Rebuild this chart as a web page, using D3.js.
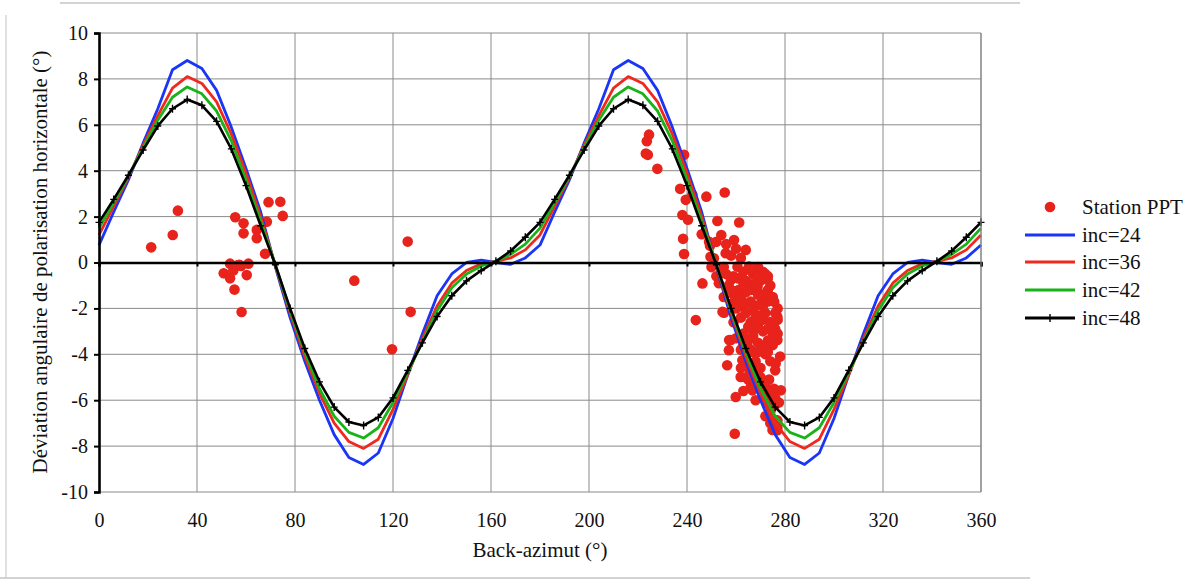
<!DOCTYPE html>
<html>
<head>
<meta charset="utf-8">
<script src="https://cdn.jsdelivr.net/npm/d3@7"></script>
<style>
html,body{margin:0;padding:0;background:#fff;}
svg{display:block;}
</style>
</head>
<body>
<svg id="chart" width="1196" height="580"></svg>
<script>
// ---------- DATA ----------
const azimuth = [0,6,12,18,24,30,36,42,48,54,60,66,72,78,84,90,96,102,108,114,120,126,132,138,144,150,156,162,168,174,
  180,186,192,198,204,210,216,222,228,234,240,246,252,258,264,270,276,282,288,294,300,306,312,318,324,330,336,342,348,354,360];

const inc24 = [0.76,2.2,3.6,5.2,6.7,8.4,8.8,8.45,7.5,5.9,4.1,2.2,-0.2,-2.4,-4.3,-6.0,-7.5,-8.5,-8.8,-8.3,-6.8,-4.9,-3.1,-1.45,-0.5,0.0,0.1,0.0,-0.08,0.2,
  0.76,2.2,3.6,5.2,6.7,8.4,8.8,8.45,7.5,5.9,4.1,2.2,-0.2,-2.4,-4.3,-6.0,-7.5,-8.5,-8.8,-8.3,-6.8,-4.9,-3.1,-1.45,-0.5,0.0,0.1,0.0,-0.08,0.2,0.76];

const inc36 = [1.2,2.45,3.7,5.1,6.4,7.6,8.1,7.8,7.0,5.6,3.9,2.0,-0.15,-2.2,-4.1,-5.7,-7.0,-7.8,-8.1,-7.7,-6.4,-4.9,-3.3,-1.9,-0.9,-0.35,-0.05,0.05,0.2,0.55,
  1.2,2.45,3.7,5.1,6.4,7.6,8.1,7.8,7.0,5.6,3.9,2.0,-0.15,-2.2,-4.1,-5.7,-7.0,-7.8,-8.1,-7.7,-6.4,-4.9,-3.3,-1.9,-0.9,-0.35,-0.05,0.05,0.2,0.55,1.2];

const inc42 = [1.5,2.6,3.75,5.0,6.2,7.2,7.65,7.35,6.6,5.3,3.6,1.8,-0.1,-2.1,-3.9,-5.5,-6.7,-7.4,-7.65,-7.2,-6.1,-4.8,-3.45,-2.1,-1.1,-0.5,-0.15,0.05,0.35,0.8,
  1.5,2.6,3.75,5.0,6.2,7.2,7.65,7.35,6.6,5.3,3.6,1.8,-0.1,-2.1,-3.9,-5.5,-6.7,-7.4,-7.65,-7.2,-6.1,-4.8,-3.45,-2.1,-1.1,-0.5,-0.15,0.05,0.35,0.8,1.5];

const inc48 = [1.75,2.75,3.8,4.9,5.95,6.7,7.1,6.85,6.15,4.95,3.35,1.6,-0.1,-2.0,-3.75,-5.2,-6.3,-6.95,-7.1,-6.75,-5.9,-4.7,-3.5,-2.35,-1.45,-0.8,-0.35,0.05,0.5,1.1,
  1.75,2.75,3.8,4.9,5.95,6.7,7.1,6.85,6.15,4.95,3.35,1.6,-0.1,-2.0,-3.75,-5.2,-6.3,-6.95,-7.1,-6.75,-5.9,-4.7,-3.5,-2.35,-1.45,-0.8,-0.35,0.05,0.5,1.1,1.75];

// Station PPT observations: back-azimuth (deg) and deviation (deg)
const stationAz = [
  21.3,30.1,32.2,55.6,59.0,59.0,64.4,64.4,68.5,69.2,74.0,75.0,67.8,53.5,56.5,58.0,61.0,60.3,50.9,53.5,55.3,58.2,104.2,119.6,126.0,127.2,54.8,57.3,
  224.5,223.6,224.0,223.2,227.9,238.8,237.2,239.5,242.2,247.9,255.4,238.1,240.4,252.4,261.3,238.4,238.8,246.0,249.4,259.2,264.0,251.0,255.8,
  246.3,265.3,272.9,268.8,253.8,257.9,260.6,243.6,259.9,259.5,255.1,257.1,256.4,257.9,266.0,276.9,249.0,249.6,275.6,276.9,276.9,276.2,278.3,276.9,
  254.5,257.2,
  252,254,256,258,260,262,250,252,255,257,259,261,263,265,267,269,271,273,255,258,262,264,266,268,270,274,
  262,264,266,268,270,272,274,276,263,265,267,269,271,273,275,277,262,264,266,268,270,272,274,276,278,259,260,
  262.6,264.7,268.1,269.4,266.7,271.5,272.9,274.2,275.4,276.9,273.5,275.5,277.5,270,268,272,274,276,261.9,263,265,274.9,276.3,
  253,256,259,261,263,266,268,270,272,275,260,262,264,267,269,271,273,276,277,265,267,269,271,273,263,265,267,269,271,273,275,262,264,266,
  268,270,272,274,276,258,261,264,266,269,271,273,275,277
];
const stationDev = [
  0.66,1.2,2.26,1.97,1.71,1.27,1.42,1.06,1.78,2.63,2.65,2.03,0.38,-0.05,-0.12,-0.15,-0.05,-0.55,-0.47,-0.69,-1.18,-2.16,-0.79,-3.78,0.91,-2.15,-0.35,-0.1,
  5.57,5.28,4.69,4.75,4.08,4.69,3.21,2.73,2.95,2.87,3.05,2.07,1.86,1.81,1.74,1.03,0.37,1.23,0.73,0.98,0.55,0.18,0.40,
  -0.91,-0.18,-0.73,-1.06,-0.47,-0.76,-0.18,-2.51,-5.86,-7.46,-2.19,-3.82,-4.48,-3.38,-5.42,-7.17,0.9,0.25,-1.71,-2.37,-3.38,-4.4,-5.57,-6.88,
  -2.15,-3.38,
  0.9,1.2,0.8,0.3,0.6,0.2,-0.2,-0.6,-0.2,-1.0,-0.6,-1.2,-0.4,-0.9,-0.5,-0.2,-1.4,-1.2,-1.5,-1.8,-1.9,-1.3,-1.7,-1.9,-1.8,-1.0,
  -2.4,-2.2,-2.6,-2.4,-2.3,-2.2,-2.6,-2.9,-3.1,-3.4,-3.0,-3.5,-3.0,-3.4,-3.6,-3.1,-3.8,-4.2,-3.8,-4.3,-4.6,-4.0,-4.3,-4.7,-4.1,-2.6,-3.3,
  -4.26,-4.55,-4.99,-5.28,-5.57,-5.86,-6.15,-6.44,-6.88,-7.31,-5.1,-5.5,-6.1,-5.5,-6.0,-6.7,-7.0,-6.2,-4.99,-5.6,-5.1,-7.3,-6.88,
  -0.9,-0.5,-1.4,-0.7,-1.0,-1.2,-0.9,-0.8,-0.5,-1.6,-2.0,-1.6,-1.8,-2.1,-1.4,-1.9,-1.7,-2.2,-2.5,-2.8,-3.2,-2.7,-2.5,-2.9,-3.6,-3.7,-3.9,-3.9,-3.7,-3.9,-3.2,-4.6,-5.0,-4.8,
  -4.6,-5.0,-5.3,-5.6,-5.9,-1.2,-1.6,-0.8,-0.3,-0.6,-0.4,-0.6,-1.5,-2.0
];

const xTicks = [0,40,80,120,160,200,240,280,320,360];
const yTicks = [-10,-8,-6,-4,-2,0,2,4,6,8,10];
const seriesNames = ["Station PPT","inc=24","inc=36","inc=42","inc=48"];
const seriesColors = ["#e8231b","#1a35f5","#f0281e","#19b319","#000000"];

// ---------- CHART ----------
const FONT = "'Liberation Serif', 'DejaVu Serif', 'Times New Roman', serif";
const svg = d3.select("#chart");
const x = d3.scaleLinear().domain([0,360]).range([99,981]);
const y = d3.scaleLinear().domain([-10,10]).range([492,33]);

// outer frame lines (scan border)
svg.append("line").attr("x1",60).attr("x2",1020).attr("y1",3).attr("y2",3).attr("stroke","#c4c4c4").attr("stroke-width",1.5);
svg.append("line").attr("x1",6).attr("x2",6).attr("y1",15).attr("y2",578).attr("stroke","#d6d6d6").attr("stroke-width",1.5);
svg.append("line").attr("x1",0).attr("x2",1030).attr("y1",578).attr("y2",578).attr("stroke","#c4c4c4").attr("stroke-width",1.5);

// gridlines
const grid = svg.append("g");
grid.selectAll(".gx").data(xTicks.filter(d=>d>0)).enter().append("line")
  .attr("x1",d=>x(d)).attr("x2",d=>x(d)).attr("y1",y(10)).attr("y2",y(-10))
  .attr("stroke","#8a8a8a").attr("stroke-width",1);
grid.selectAll(".gy").data(yTicks).enter().append("line")
  .attr("x1",x(0)).attr("x2",x(360)).attr("y1",d=>y(d)).attr("y2",d=>y(d))
  .attr("stroke","#8a8a8a").attr("stroke-width",1);

// station points
const pts = stationAz.map((a,i)=>({a:a,v:stationDev[i]}));
svg.append("g").selectAll("circle").data(pts).enter().append("circle")
  .attr("cx",d=>x(d.a)).attr("cy",d=>y(d.v)).attr("r",5.3)
  .attr("fill",seriesColors[0]);

// curves
const curves = [inc24,inc36,inc42,inc48];
const line = d3.line().x(d=>x(d[0])).y(d=>y(d[1]));
curves.forEach((vals,k)=>{
  const data = azimuth.map((a,i)=>[a,vals[i]]);
  svg.append("path").datum(data).attr("d",line)
    .attr("fill","none").attr("stroke",seriesColors[k+1])
    .attr("stroke-width",k===3?2.6:2.8).attr("stroke-linejoin","round");
});
// "+" markers on inc=48
svg.append("g").selectAll("path").data(azimuth.map((a,i)=>[a,inc48[i]])).enter().append("path")
  .attr("d",d=>`M${x(d[0])-3.5},${y(d[1])}H${x(d[0])+3.5}M${x(d[0])},${y(d[1])-4}V${y(d[1])+4}`)
  .attr("stroke","#000").attr("stroke-width",1.4);

// zero line with ticks
const zeroAxis = svg.append("g").attr("transform",`translate(0,${y(0)})`)
  .call(d3.axisBottom(x).tickValues(xTicks).tickSize(4).tickFormat(""));
zeroAxis.select(".domain").attr("stroke","#000").attr("stroke-width",2.6);
zeroAxis.selectAll(".tick line").attr("stroke","#000").attr("stroke-width",2);

// x tick labels at bottom
const xLab = svg.append("g").attr("transform",`translate(0,${y(-10)})`)
  .call(d3.axisBottom(x).tickValues(xTicks).tickSize(0).tickPadding(21).tickFormat(d=>String(d)));
xLab.select(".domain").remove();
xLab.attr("font-family",FONT).attr("font-size",20);
xLab.selectAll("text").attr("fill","#111");

// y axis
const yAx = svg.append("g").attr("transform",`translate(${x(0)},0)`)
  .call(d3.axisLeft(y).tickValues(yTicks).tickSize(5).tickPadding(6).tickFormat(d=>String(d)));
yAx.select(".domain").attr("stroke","#000").attr("stroke-width",2.6);
yAx.selectAll(".tick line").attr("stroke","#000").attr("stroke-width",2);
yAx.attr("font-family",FONT).attr("font-size",20);
yAx.selectAll("text").attr("fill","#111");

// right border of plot
svg.append("line").attr("x1",x(360)).attr("x2",x(360)).attr("y1",y(10)).attr("y2",y(-10)).attr("stroke","#8a8a8a").attr("stroke-width",1.2);

// axis titles
svg.append("text").attr("x",540).attr("y",557).attr("text-anchor","middle")
  .attr("font-family",FONT).attr("font-size",21).attr("fill","#111").text("Back-azimut (°)");
svg.append("text").attr("transform","translate(47,262) rotate(-90)").attr("text-anchor","middle")
  .attr("font-family",FONT).attr("font-size",21).attr("fill","#111").text("Déviation angulaire de polarisation horizontale (°)");

// legend
const legY = [207,235,262,290,318];
const leg = svg.append("g");
seriesNames.forEach((n,i)=>{
  if(i===0){
    leg.append("circle").attr("cx",1050).attr("cy",legY[i]).attr("r",5.3).attr("fill",seriesColors[0]);
  } else {
    leg.append("line").attr("x1",1025).attr("x2",1075).attr("y1",legY[i]).attr("y2",legY[i])
      .attr("stroke",seriesColors[i]).attr("stroke-width",2.8);
    if(i===4){
      leg.append("path").attr("d",`M1046.5,${legY[i]}H1053.5M1050,${legY[i]-4}V${legY[i]+4}`)
        .attr("stroke","#000").attr("stroke-width",1.4);
    }
  }
  leg.append("text").attr("x",1082).attr("y",legY[i]).attr("dy","0.35em")
    .attr("font-family",FONT).attr("font-size",21).attr("fill","#111").text(n);
});
</script>
</body>
</html>
